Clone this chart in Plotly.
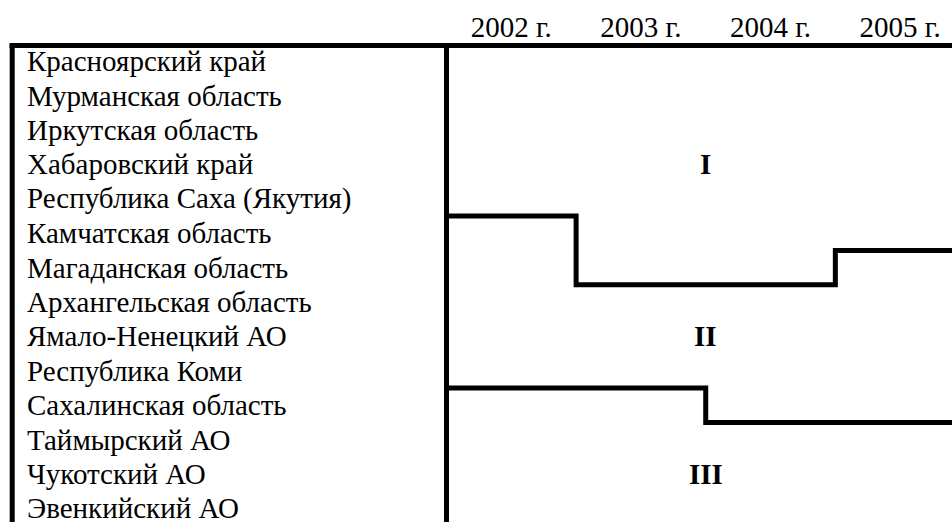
import plotly.graph_objects as go

# ---- data ----
regions = [
    "Красноярский край",
    "Мурманская область",
    "Иркутская область",
    "Хабаровский край",
    "Республика Саха (Якутия)",
    "Камчатская область",
    "Магаданская область",
    "Архангельская область",
    "Ямало-Ненецкий АО",
    "Республика Коми",
    "Сахалинская область",
    "Таймырский АО",
    "Чукотский АО",
    "Эвенкийский АО",
]
years = ["2002 г.", "2003 г.", "2004 г.", "2005 г."]
# number of regions (from the top) in group I, per year
group1_count = [5, 7, 7, 6]
# number of regions (from the top) in groups I + II, per year
group12_count = [10, 10, 11, 11]
group_names = ["I", "II", "III"]
group_label_rows = [3, 8, 12]

W, H = 952, 522
FONT = "Liberation Serif, Times New Roman, serif"
X_MAX = 3.4
TOP_PX = 45.5
DIV_PX = 446.5
LEFT_PX = 12.2
LABEL_PX = 24.5

fig = go.Figure()

# step boundary lines between groups
x_edges = [i - 0.5 for i in range(len(years))] + [X_MAX + 0.2]
for counts in (group1_count, group12_count):
    yb = [c - 0.5 for c in counts]
    yb = yb + [yb[-1]]
    fig.add_trace(go.Scatter(
        x=x_edges, y=yb, mode="lines",
        line=dict(color="black", width=5, shape="hv"),
        hoverinfo="skip", showlegend=False,
    ))

annotations = []
# region labels (left column)
for i, name in enumerate(regions):
    annotations.append(dict(
        x=LABEL_PX / W, xref="paper", xanchor="left",
        y=i, yref="y", yanchor="middle",
        text=name, showarrow=False,
        font=dict(family=FONT, size=29, color="black"),
    ))
# group labels
for g, r in zip(group_names, group_label_rows):
    annotations.append(dict(
        x=(len(years) - 1) / 2, xref="x",
        y=r, yref="y",
        text="<b>" + g + "</b>", showarrow=False,
        font=dict(family=FONT, size=29, color="black"),
    ))

shapes = [
    # top rule
    dict(type="line", xref="paper", yref="paper",
         x0=9.5 / W, x1=1.0, y0=1 - TOP_PX / H, y1=1 - TOP_PX / H,
         line=dict(color="black", width=5)),
    # left border
    dict(type="line", xref="paper", yref="paper",
         x0=LEFT_PX / W, x1=LEFT_PX / W, y0=1 - TOP_PX / H, y1=-0.01,
         line=dict(color="black", width=5)),
    # divider between names and years
    dict(type="line", xref="paper", yref="paper",
         x0=DIV_PX / W, x1=DIV_PX / W, y0=1 - TOP_PX / H, y1=-0.01,
         line=dict(color="black", width=5)),
]

row_px = 34.39
top_row = (TOP_PX - 61.3) / row_px
bottom_row = (H - 61.3) / row_px

fig.update_layout(
    width=W, height=H,
    margin=dict(l=0, r=0, t=0, b=0),
    paper_bgcolor="white", plot_bgcolor="white",
    showlegend=False,
    font=dict(family=FONT, size=29, color="black"),
    xaxis=dict(
        domain=[DIV_PX / W, 1], range=[-0.5, X_MAX],
        side="top", tickmode="array",
        tickvals=list(range(len(years))), ticktext=years,
        ticks="", showgrid=False, zeroline=False, showline=False,
        tickfont=dict(family=FONT, size=29, color="black"),
        ticklabelstandoff=2,
        fixedrange=True,
    ),
    yaxis=dict(
        domain=[0, 1 - TOP_PX / H], range=[bottom_row, top_row],
        visible=False, showgrid=False, zeroline=False, fixedrange=True,
    ),
    annotations=annotations,
    shapes=shapes,
)

fig.write_html(
    "out.html",
    config={"displayModeBar": False},
    post_script="document.body.style.margin='0';document.body.style.overflow='hidden';",
)
